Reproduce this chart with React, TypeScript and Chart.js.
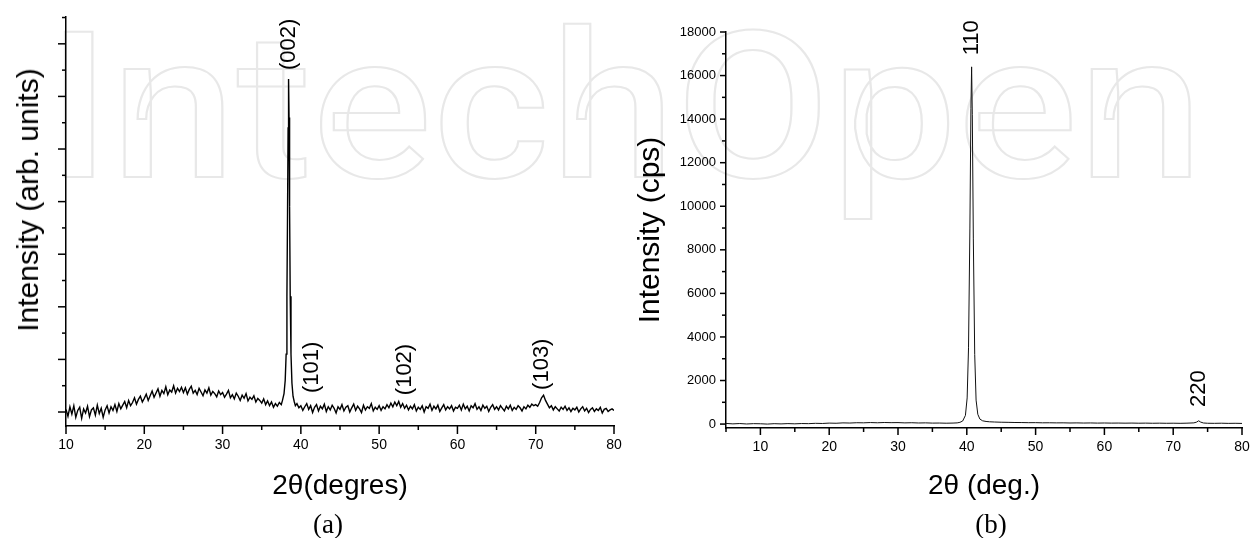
import React, { useEffect, useRef } from 'react';
import { Chart, registerables } from 'chart.js';

Chart.register(...registerables);

// ---------- Panel (a) data ----------
const angleStartA = 10;
const angleStepA = 0.25;
// background intensity (arb. units), 10.00° .. 80.00° every 0.25°; null = covered by the (002) peak list
const backgroundA: (number | null)[] = [
  0.05, -0.08, 0.10, -0.04, 0.12, -0.10, 0.03, 0.09, -0.12, 0.06, -0.02, 0.11, -0.09, 0.04, 0.08, -0.06, 0.13, -0.03, 0.07, -0.10,
  0.04, 0.12, -0.02, 0.10, 0.03, 0.14, 0.01, 0.16, 0.06, 0.13, 0.20, 0.08, 0.22, 0.12, 0.18, 0.27, 0.15, 0.24, 0.30, 0.19,
  0.26, 0.34, 0.22, 0.31, 0.40, 0.28, 0.36, 0.44, 0.30, 0.41, 0.35, 0.48, 0.33, 0.42, 0.38, 0.50, 0.36, 0.45, 0.39, 0.47,
  0.37, 0.46, 0.34, 0.43, 0.49, 0.36, 0.41, 0.33, 0.45, 0.38, 0.31, 0.42, 0.36, 0.46, 0.32, 0.39, 0.35, 0.29, 0.40, 0.33,
  0.37, 0.28, 0.34, 0.41, 0.27, 0.33, 0.25, 0.36, 0.30, 0.22, 0.32, 0.26, 0.35, 0.21, 0.28, 0.24, 0.31, 0.19, 0.26, 0.22,
  0.17, 0.25, 0.14, 0.21, 0.12, 0.19, 0.09, 0.16, 0.11, 0.18, 0.14, null, null, null, null, null, null, null, 0.16, 0.08,
  0.12, 0.03, 0.10, 0.16, 0.05, 0.12, -0.01, 0.09, 0.14, 0.02, 0.11, 0.06, 0.15, 0.01, 0.10, 0.04, 0.13, 0.07, -0.02, 0.10,
  0.05, 0.14, 0.02, 0.09, 0.12, 0.00, 0.08, 0.15, 0.03, 0.11, 0.06, -0.01, 0.13, 0.04, 0.10, 0.07, 0.16, 0.02, 0.09, 0.05,
  0.12, 0.03, 0.10, 0.06, 0.14, 0.08, 0.17, 0.10, 0.19, 0.12, 0.20, 0.09, 0.16, 0.07, 0.13, 0.04, 0.11, 0.06, 0.14, 0.02,
  0.09, 0.05, 0.12, 0.00, 0.10, 0.07, 0.15, 0.03, 0.11, 0.06, 0.13, 0.01, 0.08, 0.14, 0.04, 0.10, 0.06, 0.12, 0.02, 0.09,
  0.07, 0.13, 0.04, 0.15, 0.06, 0.11, 0.02, 0.12, 0.08, 0.16, 0.05, 0.10, 0.03, 0.13, 0.07, 0.11, 0.01, 0.09, 0.14, 0.05,
  0.10, 0.04, 0.12, 0.07, 0.02, 0.11, 0.06, 0.13, 0.03, 0.09, 0.05, 0.12, 0.08, 0.02, 0.10, 0.06, 0.13, 0.09, 0.15, 0.12,
  0.14, 0.11, 0.18, 0.27, 0.32, 0.22, 0.15, 0.08, 0.12, 0.04, 0.10, 0.06, 0.02, 0.09, 0.05, 0.11, 0.03, 0.08, 0.01, 0.07,
  0.04, 0.09, 0.00, 0.06, 0.10, 0.02, 0.07, -0.01, 0.05, 0.08, 0.01, 0.06, 0.03, 0.09, -0.02, 0.05, 0.07, 0.01, 0.04, 0.06,
  0.03,
];
const peakAnglesA = [37.65, 37.85, 38.0, 38.12, 38.22, 38.3, 38.37, 38.43, 38.49, 38.56, 38.64, 38.74, 38.86, 39.0, 39.15, 39.3];
const peakIntensA = [0.22, 0.35, 0.6, 1.1, 2.2, 3.8, 5.4, 6.33, 5.6, 3.9, 2.2, 1.1, 0.55, 0.3, 0.2, 0.12];

const peakLabelsA = ['(002)', '(101)', '(102)', '(103)'];
const peakLabelAnglesA = [38.48, 41.42, 53.3, 70.8];
const peakLabelIntensA = [6.5, 0.36, 0.32, 0.42];

const xMajorA = [10, 20, 30, 40, 50, 60, 70, 80];
const xMinorA = [15, 25, 35, 45, 55, 65, 75];
const yMajorA = [0, 1, 2, 3, 4, 5, 6, 7];
const yMinorA = [0.5, 1.5, 2.5, 3.5, 4.5, 5.5, 6.5, 7.5];

// ---------- Panel (b) data ----------
const angleStartB = 5;
const angleStepB = 1;
// background counts (cps), 5° .. 80° every 1°; null = covered by peak lists
const backgroundB: (number | null)[] = [
  30, 10, 25, 5, 20, 15, 0, 18, 8, 22,
  12, 25, 20, 35, 28, 45, 38, 55, 48, 62,
  58, 70, 60, 72, 65, 68, 55, 62, 50, 56,
  45, 48, 40, 46, null, null, null, null, null, 95,
  85, 80, 72, 70, 64, 66, 58, 60, 55, 57,
  50, 54, 48, 52, 45, 50, 44, 47, 42, 46,
  40, 44, 38, 42, 36, 40, 35, 42, null, null,
  38, 34, 40, 32, 36, 30,
];
const peak110Angles = [38.6, 39.0, 39.4, 39.8, 40.05, 40.25, 40.45, 40.6, 40.7, 40.8, 40.95, 41.15, 41.35, 41.6, 41.9, 42.3, 42.8, 43.3];
const peak110Counts = [55, 80, 140, 400, 1200, 3500, 9000, 14500, 16400, 14200, 8500, 3200, 1100, 450, 230, 150, 120, 105];
const peak220Angles = [73.0, 73.4, 73.7, 74.0, 74.4];
const peak220Counts = [55, 90, 150, 90, 50];

const peakLabelsB = ['110', '220'];
const peakLabelAnglesB = [40.72, 73.8];
const peakLabelCountsB = [16930, 780];

const xMajorB = [10, 20, 30, 40, 50, 60, 70, 80];
const xMinorB = [5, 15, 25, 35, 45, 55, 65, 75];
const yMajorB = [0, 2000, 4000, 6000, 8000, 10000, 12000, 14000, 16000, 18000];
const yMinorB = [1000, 3000, 5000, 7000, 9000, 11000, 13000, 15000, 17000];

const SANS = "'Liberation Sans', Arial, sans-serif";

type Pt = { x: number; y: number };

function buildPoints(start: number, step: number, bg: (number | null)[], extra: [number[], number[]][]): Pt[] {
  const pts: Pt[] = [];
  bg.forEach((v, i) => {
    if (v !== null) pts.push({ x: start + i * step, y: v });
  });
  extra.forEach(([xs, ys]) => xs.forEach((x, i) => pts.push({ x, y: ys[i] })));
  pts.sort((a, b) => a.x - b.x);
  return pts;
}

function tickMarksPlugin(cfg: {
  xMajor: number[]; xMinor: number[]; yMajor: number[]; yMinor: number[];
  xMajorLen: number; xMinorLen: number; yMajorLen: number; yMinorLen: number;
}) {
  return {
    id: 'tickMarks',
    afterDraw(chart: any) {
      const { ctx, chartArea, scales } = chart;
      ctx.save();
      ctx.strokeStyle = '#000';
      ctx.lineWidth = 1.5;
      const drawX = (vals: number[], len: number) =>
        vals.forEach((v) => {
          const p = scales.x.getPixelForValue(v);
          ctx.beginPath();
          ctx.moveTo(p, chartArea.bottom);
          ctx.lineTo(p, chartArea.bottom + len);
          ctx.stroke();
        });
      const drawY = (vals: number[], len: number) =>
        vals.forEach((v) => {
          const p = scales.y.getPixelForValue(v);
          ctx.beginPath();
          ctx.moveTo(chartArea.left, p);
          ctx.lineTo(chartArea.left - len, p);
          ctx.stroke();
        });
      drawX(cfg.xMajor, cfg.xMajorLen);
      drawX(cfg.xMinor, cfg.xMinorLen);
      drawY(cfg.yMajor, cfg.yMajorLen);
      drawY(cfg.yMinor, cfg.yMinorLen);
      ctx.restore();
    },
  };
}

function peakLabelPlugin(texts: string[], xs: number[], ys: number[], font: string) {
  return {
    id: 'peakLabels',
    afterDatasetsDraw(chart: any) {
      const { ctx, scales } = chart;
      ctx.save();
      ctx.font = font;
      ctx.fillStyle = '#000';
      ctx.textAlign = 'left';
      ctx.textBaseline = 'middle';
      texts.forEach((t, i) => {
        const px = scales.x.getPixelForValue(xs[i]);
        const py = scales.y.getPixelForValue(ys[i]);
        ctx.save();
        ctx.translate(px, py);
        ctx.rotate(-Math.PI / 2);
        ctx.fillText(t, 0, 0);
        ctx.restore();
      });
      ctx.restore();
    },
  };
}

const fitX = (h: number) => (s: any) => {
  s.height = h;
  s.paddingLeft = 0;
  s.paddingRight = 0;
};

export default function App() {
  const refA = useRef<HTMLCanvasElement>(null);
  const refB = useRef<HTMLCanvasElement>(null);

  useEffect(() => {
    const ptsA = buildPoints(angleStartA, angleStepA, backgroundA, [[peakAnglesA, peakIntensA]]);
    const ptsB = buildPoints(angleStartB, angleStepB, backgroundB, [
      [peak110Angles, peak110Counts],
      [peak220Angles, peak220Counts],
    ]);

    const chartA = new Chart(refA.current!, {
      type: 'line',
      data: {
        datasets: [{ data: ptsA as any, borderColor: '#000', borderWidth: 1.4, pointRadius: 0, tension: 0, fill: false }],
      },
      options: {
        responsive: false,
        animation: false,
        events: [],
        layout: { padding: { top: 17, right: 11, bottom: 0, left: 0 } },
        plugins: { legend: { display: false }, tooltip: { enabled: false } },
        scales: {
          x: {
            type: 'linear',
            min: 10,
            max: 80,
            afterBuildTicks: (s: any) => {
              s.ticks = xMajorA.map((v) => ({ value: v }));
            },
            afterFit: fitX(112),
            grid: { display: false, drawTicks: false },
            border: { display: true, color: '#000', width: 1.5 },
            ticks: { color: '#000', font: { family: SANS, size: 14 }, padding: 11, maxRotation: 0, autoSkip: false, callback: (v: any) => String(v) },
            title: { display: true, text: '2θ(degres)', color: '#000', font: { family: SANS, size: 28 }, padding: { top: 0, bottom: 35 } },
          },
          y: {
            type: 'linear',
            min: -0.266,
            max: 7.51,
            afterBuildTicks: (s: any) => {
              s.ticks = yMajorA.map((v) => ({ value: v }));
            },
            afterFit: (s: any) => {
              s.width = 66;
            },
            grid: { display: false, drawTicks: false },
            border: { display: true, color: '#000', width: 1.5 },
            ticks: { display: false },
          },
        },
      },
      plugins: [
        tickMarksPlugin({
          xMajor: xMajorA, xMinor: xMinorA, yMajor: yMajorA, yMinor: yMinorA,
          xMajorLen: 8, xMinorLen: 4, yMajorLen: 8, yMinorLen: 4,
        }),
        peakLabelPlugin(peakLabelsA, peakLabelAnglesA, peakLabelIntensA, `22px ${SANS}`),
      ],
    });

    const chartB = new Chart(refB.current!, {
      type: 'line',
      data: {
        datasets: [{ data: ptsB as any, borderColor: '#111', borderWidth: 1, pointRadius: 0, tension: 0, fill: false }],
      },
      options: {
        responsive: false,
        animation: false,
        events: [],
        layout: { padding: { top: 32, right: 11, bottom: 0, left: 0 } },
        plugins: { legend: { display: false }, tooltip: { enabled: false } },
        scales: {
          x: {
            type: 'linear',
            min: 5,
            max: 80,
            afterBuildTicks: (s: any) => {
              s.ticks = xMajorB.map((v) => ({ value: v }));
            },
            afterFit: fitX(110),
            grid: { display: false, drawTicks: false },
            border: { display: true, color: '#000', width: 1.5 },
            ticks: { color: '#000', font: { family: SANS, size: 14 }, padding: 11, maxRotation: 0, autoSkip: false, callback: (v: any) => String(v) },
            title: { display: true, text: '2θ (deg.)', color: '#000', font: { family: SANS, size: 28 }, padding: { top: 0, bottom: 35 } },
          },
          y: {
            type: 'linear',
            min: -180,
            max: 18000,
            afterBuildTicks: (s: any) => {
              s.ticks = yMajorB.map((v) => ({ value: v }));
            },
            afterFit: (s: any) => {
              s.width = 101;
            },
            grid: { display: false, drawTicks: false },
            border: { display: true, color: '#000', width: 1.5 },
            ticks: { color: '#000', font: { family: SANS, size: 13 }, padding: 10, callback: (v: any) => String(v) },
            title: { display: true, text: 'Intensity (cps)', color: '#000', font: { family: SANS, size: 30 }, padding: { top: 8, bottom: 0 } },
          },
        },
      },
      plugins: [
        tickMarksPlugin({
          xMajor: xMajorB, xMinor: xMinorB, yMajor: yMajorB, yMinor: yMinorB,
          xMajorLen: 7, xMinorLen: 4, yMajorLen: 6, yMinorLen: 4,
        }),
        peakLabelPlugin(peakLabelsB, peakLabelAnglesB, peakLabelCountsB, `22px ${SANS}`),
      ],
    });

    return () => {
      chartA.destroy();
      chartB.destroy();
    };
  }, []);

  return (
    <div style={{ position: 'absolute', left: 0, top: 0, width: 1253, height: 538, overflow: 'hidden', background: '#fff' }}>
      <div
        style={{
          position: 'absolute',
          left: 47,
          top: 5,
          fontFamily: 'Roboto, sans-serif',
          fontWeight: 500,
          fontSize: 205,
          lineHeight: '205px',
          letterSpacing: 1,
          color: 'transparent',
          WebkitTextStroke: '2px #e8e8e8',
          whiteSpace: 'nowrap',
          transform: 'scaleX(1.09)',
          transformOrigin: '0 0',
        }}
      >
        IntechOpen
      </div>
      <canvas ref={refA} width={625} height={538} style={{ position: 'absolute', left: 0, top: 0 }} />
      <canvas ref={refB} width={628} height={538} style={{ position: 'absolute', left: 625, top: 0 }} />
      <div
        style={{
          position: 'absolute',
          left: 28,
          top: 200,
          transform: 'translate(-50%, -50%) rotate(-90deg)',
          fontFamily: SANS,
          fontSize: 30,
          whiteSpace: 'nowrap',
          color: '#000',
        }}
      >
        Intensity (arb. units)
      </div>
      <div
        style={{
          position: 'absolute',
          left: 328,
          top: 524,
          transform: 'translate(-50%, -50%)',
          fontFamily: "'Liberation Serif', serif",
          fontSize: 27,
          whiteSpace: 'nowrap',
          color: '#000',
        }}
      >
        (a)
      </div>
      <div
        style={{
          position: 'absolute',
          left: 991,
          top: 524,
          transform: 'translate(-50%, -50%)',
          fontFamily: "'Liberation Serif', serif",
          fontSize: 27,
          whiteSpace: 'nowrap',
          color: '#000',
        }}
      >
        (b)
      </div>
    </div>
  );
}
